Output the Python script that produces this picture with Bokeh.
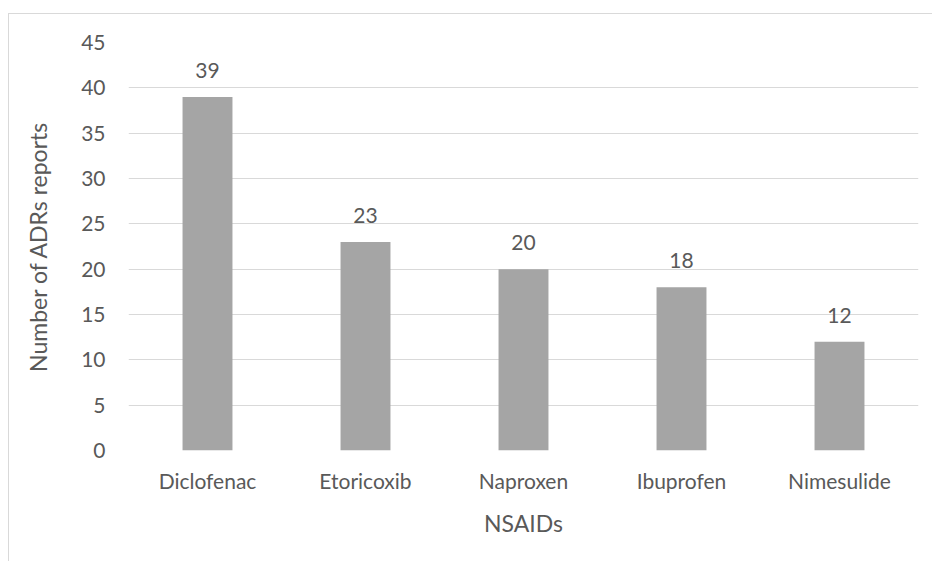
from bokeh.plotting import figure
from bokeh.models import ColumnDataSource, FixedTicker, LabelSet
from bokeh.core.properties import value
from bokeh.embed import file_html
from bokeh.resources import INLINE

categories = ["Diclofenac", "Etoricoxib", "Naproxen", "Ibuprofen", "Nimesulide"]
reports = [39, 23, 20, 18, 12]
y_ticks = [0, 5, 10, 15, 20, 25, 30, 35, 40, 45]

FONT = "Lato"
TXT = "#595959"

src = ColumnDataSource(dict(cat=categories, val=reports, lab=[str(v) for v in reports]))

p = figure(x_range=categories, y_range=(0, 45), width=924, height=548,
           output_backend="svg", toolbar_location=None,
           min_border_left=119, min_border_right=15, min_border_top=28, min_border_bottom=112)
p.styles = {"margin-left": "8px", "margin-top": "13px",
            "border-left": "1px solid #d9d9d9", "border-top": "1px solid #d9d9d9"}
p.outline_line_color = None
p.background_fill_color = "white"
p.border_fill_color = "white"

p.vbar(x="cat", top="val", width=0.316, source=src, fill_color="#a5a5a5", line_color=None)

labels = LabelSet(x="cat", y="val", text="lab", source=src, text_align="center",
                  text_baseline="bottom", y_offset=19, text_font=value(FONT),
                  text_font_size="21px", text_color=TXT)
p.add_layout(labels)

p.yaxis.ticker = FixedTicker(ticks=y_ticks)
p.ygrid.ticker = FixedTicker(ticks=y_ticks)
p.ygrid.grid_line_color = "#d9d9d9"
p.ygrid.grid_line_width = 1
p.xgrid.grid_line_color = None

for ax in (p.xaxis[0], p.yaxis[0]):
    ax.axis_line_color = None
    ax.major_tick_line_color = None
    ax.minor_tick_line_color = None
    ax.major_label_text_font = FONT
    ax.major_label_text_font_size = "21px"
    ax.major_label_text_color = TXT
    ax.axis_label_text_font = FONT
    ax.axis_label_text_font_size = "23px"
    ax.axis_label_text_color = TXT
    ax.axis_label_text_font_style = "normal"

p.yaxis.major_label_standoff = 17
p.xaxis.major_label_standoff = 11
p.xaxis.axis_label = "NSAIDs"
p.yaxis.axis_label = "Number of ADRs reports"
p.xaxis.axis_label_standoff = 13
p.yaxis.axis_label_standoff = 26

open("out.html", "w").write(file_html(p, INLINE))
